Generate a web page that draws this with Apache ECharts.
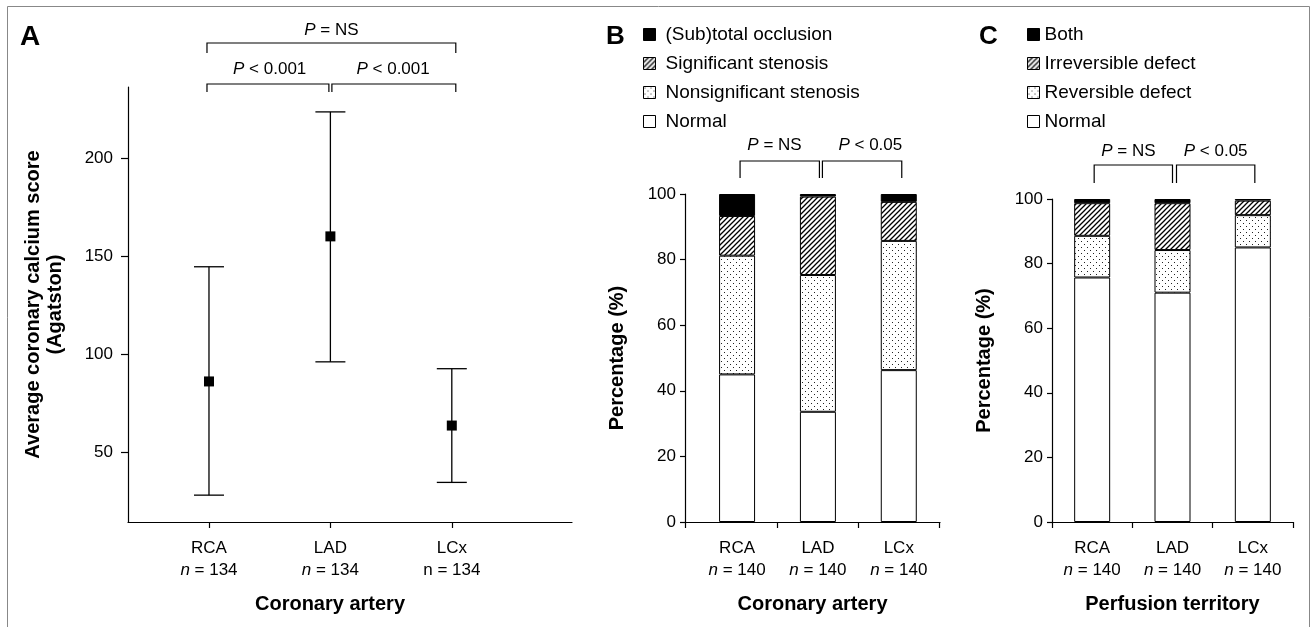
<!DOCTYPE html>
<html>
<head>
<meta charset="utf-8">
<script src="https://cdn.jsdelivr.net/npm/echarts@6/dist/echarts.min.js"></script>
<style>
  html, body { margin: 0; padding: 0; background: #fff; }
  #main { width: 1312px; height: 627px; }
</style>
</head>
<body>
<div id="main"></div>
<script>
// ---- data ----
const arteries = ['RCA', 'LAD', 'LCx'];
const nPanelA = [134, 134, 134];
const nItalicA = [true, true, false];
const nPanelBC = [140, 140, 140];

// A: average coronary calcium score (Agatston), mean with range bars
const calciumMean = [86, 160, 63.5];
const calciumLow = [28, 96, 34.5];
const calciumHigh = [144.5, 223.5, 92.5];
const calciumTicks = [50, 100, 150, 200];

// B: stenosis per coronary artery (%)
const stenNormal = [45.0, 33.6, 46.3];
const stenNonsig = [36.2, 41.7, 39.4];
const stenSig = [12.1, 23.9, 11.9];
const stenOcclusion = [6.7, 0.8, 2.4];

// C: perfusion per territory (%)
const perfNormal = [75.7, 71.0, 85.0];
const perfReversible = [12.9, 13.2, 10.0];
const perfIrreversible = [10.1, 14.5, 4.5];
const perfBoth = [1.3, 1.3, 0.5];

const FONT = "'Liberation Sans', Arial, sans-serif";

// fill patterns
function hatchPattern() {
  const c = document.createElement('canvas');
  c.width = c.height = 5;
  const g = c.getContext('2d');
  g.fillStyle = '#fff';
  g.fillRect(0, 0, 5, 5);
  g.strokeStyle = '#000';
  g.lineWidth = 1.3;
  g.beginPath();
  g.moveTo(0, 5); g.lineTo(5, 0);
  g.moveTo(-1, 1); g.lineTo(1, -1);
  g.moveTo(4, 6); g.lineTo(6, 4);
  g.stroke();
  return { image: c, repeat: 'repeat' };
}
function dotPattern() {
  const c = document.createElement('canvas');
  c.width = c.height = 6;
  const g = c.getContext('2d');
  g.fillStyle = '#fff';
  g.fillRect(0, 0, 6, 6);
  g.fillStyle = '#222';
  g.fillRect(1, 1, 1, 1);
  g.fillRect(4, 4, 1, 1);
  return { image: c, repeat: 'repeat' };
}
const HATCH = hatchPattern();
const DOTS = dotPattern();

const axisLineStyle = { color: '#000', width: 1.2 };
const tickLabel = { color: '#000', fontSize: 17, fontFamily: FONT };
const axisNameStyle = { color: '#000', fontSize: 20, fontWeight: 'bold', fontFamily: FONT };
const italicRich = { i: { fontStyle: 'italic', fontSize: 17, lineHeight: 22, fontFamily: FONT, color: '#000' } };

function nLabel(n, italic) {
  return (italic ? '{i|n}' : 'n') + ' = ' + n;
}

function percentYAxis(idx) {
  return {
    gridIndex: idx, type: 'value', min: 0, max: 100, interval: 20,
    name: 'Percentage (%)', nameLocation: 'middle', nameGap: 58, nameRotate: 90,
    nameTextStyle: axisNameStyle,
    axisLine: { show: true, lineStyle: axisLineStyle },
    axisTick: { show: true, length: 5, lineStyle: axisLineStyle },
    axisLabel: Object.assign({ margin: 9 }, tickLabel),
    splitLine: { show: false }
  };
}

// B uses a value x axis, so the value goes first and x second (stack on y)
function stackSeries(name, values, color, axisIdx, stack, useValueX) {
  const s = {
    name: name, type: 'bar', stack: stack,
    xAxisIndex: axisIdx, yAxisIndex: axisIdx,
    barWidth: 36,
    data: values.map((v, i) => useValueX ? [v, i + 1] : v),
    itemStyle: { color: color, borderColor: '#000', borderWidth: 1 },
    emphasis: { disabled: true }
  };
  if (useValueX) s.encode = { x: 1, y: 0 };
  return s;
}

const legendCommon = {
  orient: 'vertical', itemWidth: 12, itemHeight: 12, itemGap: 10, padding: 0,
  selectedMode: false, icon: 'rect',
  itemStyle: { borderColor: '#000', borderWidth: 1 }
};

const option = {
  animation: false,
  backgroundColor: '#fff',
  textStyle: { fontFamily: FONT },
  title: [
    { text: 'A', left: 15, top: 18, textStyle: { fontSize: 28, fontWeight: 'bold', color: '#000', fontFamily: FONT } },
    { text: 'B', left: 601, top: 19, textStyle: { fontSize: 26, fontWeight: 'bold', color: '#000', fontFamily: FONT } },
    { text: 'C', left: 974, top: 19, textStyle: { fontSize: 26, fontWeight: 'bold', color: '#000', fontFamily: FONT } }
  ],
  legend: [
    Object.assign({ left: 643, top: 25,
      textStyle: { color: '#000', fontSize: 19, fontFamily: FONT, padding: [0, 0, 0, 5] },
      data: ['(Sub)total occlusion', 'Significant stenosis', 'Nonsignificant stenosis', 'Normal'] }, legendCommon),
    Object.assign({ left: 1027, top: 25,
      textStyle: { color: '#000', fontSize: 19, fontFamily: FONT },
      data: ['Both', 'Irreversible defect', 'Reversible defect', 'Normal '] }, legendCommon)
  ],
  grid: [
    { left: 128, top: 87, right: 740, bottom: 105 },
    { left: 685, top: 194, right: 372, bottom: 105 },
    { left: 1052, top: 199, right: 19, bottom: 105 }
  ],
  xAxis: [
    {
      gridIndex: 0, type: 'value', min: 0.333, max: 3.99,
      name: 'Coronary artery', nameLocation: 'middle', nameGap: 72,
      nameTextStyle: Object.assign({ padding: [0, 40, 0, 0] }, axisNameStyle),
      axisLine: { show: true, onZero: false, lineStyle: axisLineStyle },
      axisTick: { show: true, length: 6, customValues: [1, 2, 3], lineStyle: axisLineStyle },
      axisLabel: Object.assign({
        customValues: [1, 2, 3], margin: 15, lineHeight: 22,
        formatter: v => { const i = Math.round(v) - 1; return arteries[i] + '\n' + nLabel(nPanelA[i], nItalicA[i]); },
        rich: italicRich
      }, tickLabel),
      splitLine: { show: false }
    },
    {
      gridIndex: 1, type: 'value', min: 0.356, max: 3.51,
      name: 'Coronary artery', nameLocation: 'middle', nameGap: 72,
      nameTextStyle: axisNameStyle,
      axisLine: { show: true, onZero: false, lineStyle: axisLineStyle },
      axisTick: { show: true, length: 6, customValues: [0.356, 1.5, 2.5, 3.5], lineStyle: axisLineStyle },
      axisLabel: Object.assign({
        customValues: [1, 2, 3], margin: 15, lineHeight: 22,
        formatter: v => { const i = Math.round(v) - 1; return arteries[i] + '\n' + nLabel(nPanelBC[i], true); },
        rich: italicRich
      }, tickLabel),
      splitLine: { show: false }
    },
    {
      gridIndex: 2, type: 'category', data: arteries,
      name: 'Perfusion territory', nameLocation: 'middle', nameGap: 72,
      nameTextStyle: axisNameStyle,
      axisLine: { show: true, lineStyle: axisLineStyle },
      axisTick: { show: true, length: 6, lineStyle: axisLineStyle },
      axisLabel: Object.assign({
        margin: 15, lineHeight: 22, interval: 0,
        formatter: (v, i) => v + '\n' + nLabel(nPanelBC[i], true),
        rich: italicRich
      }, tickLabel)
    }
  ],
  yAxis: [
    {
      gridIndex: 0, type: 'value', min: 14.3, max: 236.2,
      name: 'Average coronary calcium score\n(Agatston)', nameLocation: 'middle', nameGap: 62, nameRotate: 90,
      nameTextStyle: Object.assign({ lineHeight: 22 }, axisNameStyle),
      axisLine: { show: true, lineStyle: axisLineStyle },
      axisTick: { show: true, length: 7, customValues: calciumTicks, lineStyle: axisLineStyle },
      axisLabel: Object.assign({ customValues: calciumTicks, margin: 15 }, tickLabel),
      splitLine: { show: false }
    },
    percentYAxis(1),
    percentYAxis(2)
  ],
  series: [
    {
      name: 'range', type: 'custom', xAxisIndex: 0, yAxisIndex: 0,
      data: arteries.map((_, i) => [i + 1, calciumLow[i], calciumHigh[i]]),
      encode: { x: 0, y: [1, 2] },
      renderItem: (params, api) => {
        const x = api.value(0);
        const lo = api.coord([x, api.value(1)]);
        const hi = api.coord([x, api.value(2)]);
        const half = 15;
        const st = { stroke: '#000', lineWidth: 1.3 };
        return {
          type: 'group',
          children: [
            { type: 'line', shape: { x1: lo[0], y1: lo[1], x2: hi[0], y2: hi[1] }, style: st },
            { type: 'line', shape: { x1: hi[0] - half, y1: hi[1], x2: hi[0] + half, y2: hi[1] }, style: st },
            { type: 'line', shape: { x1: lo[0] - half, y1: lo[1], x2: lo[0] + half, y2: lo[1] }, style: st }
          ]
        };
      },
      z: 2
    },
    {
      name: 'mean', type: 'scatter', xAxisIndex: 0, yAxisIndex: 0,
      symbol: 'rect', symbolSize: 10,
      data: arteries.map((_, i) => [i + 1, calciumMean[i]]),
      itemStyle: { color: '#000', opacity: 1 }, z: 3,
      emphasis: { disabled: true }
    },
    stackSeries('Normal', stenNormal, '#fff', 1, 'b', true),
    stackSeries('Nonsignificant stenosis', stenNonsig, DOTS, 1, 'b', true),
    stackSeries('Significant stenosis', stenSig, HATCH, 1, 'b', true),
    stackSeries('(Sub)total occlusion', stenOcclusion, '#000', 1, 'b', true),
    stackSeries('Normal ', perfNormal, '#fff', 2, 'c', false),
    stackSeries('Reversible defect', perfReversible, DOTS, 2, 'c', false),
    stackSeries('Irreversible defect', perfIrreversible, HATCH, 2, 'c', false),
    stackSeries('Both', perfBoth, '#000', 2, 'c', false)
  ]
};

const chart = echarts.init(document.getElementById('main'));
chart.setOption(option);

// significance brackets, placed from the axes' own positions
function xPix(axisIdx, v) {
  return chart.convertToPixel({ xAxisIndex: axisIdx }, v);
}
const lineStyle = { stroke: '#000', lineWidth: 1.2, fill: null };
function bracket(x1, x2, y, legY) {
  return { type: 'polyline', shape: { points: [[x1, legY], [x1, y], [x2, y], [x2, legY]] }, style: lineStyle, silent: true };
}
function pText(txt, x, y) {
  return {
    type: 'text', silent: true,
    style: {
      text: txt, x: x, y: y, align: 'center', verticalAlign: 'middle',
      fontSize: 17, fontFamily: FONT, fill: '#000',
      rich: { i: { fontStyle: 'italic', fontSize: 17, fontFamily: FONT, fill: '#000' } }
    }
  };
}

const pa = [1, 2, 3].map(v => xPix(0, v));
const pb = [1, 2, 3].map(v => xPix(1, v) + 3);
const pc = [0, 1, 2].map(v => xPix(2, v) + 2);

const graphics = [
  // frame
  { type: 'rect', shape: { x: 7.5, y: 6.5, width: 1302, height: 640 }, style: { stroke: '#888', fill: null, lineWidth: 1 }, silent: true },
  // A
  bracket(pa[0] - 2, pa[2] + 4, 43, 53),
  pText('{i|P} = NS', (pa[0] + pa[2]) / 2 + 1, 30),
  bracket(pa[0] - 2, pa[1] - 1.5, 84, 92),
  bracket(pa[1] + 1.5, pa[2] + 4, 84, 92),
  pText('{i|P} < 0.001', (pa[0] + pa[1]) / 2, 69),
  pText('{i|P} < 0.001', (pa[1] + pa[2]) / 2 + 2, 69),
  // B
  bracket(pb[0], pb[1] - 1.5, 161, 178),
  bracket(pb[1] + 1.5, pb[2], 161, 178),
  pText('{i|P} = NS', (pb[0] + pb[1]) / 2 - 6, 145),
  pText('{i|P} < 0.05', (pb[1] + pb[2]) / 2 + 9, 145),
  // C
  bracket(pc[0], pc[1] - 2, 165, 183),
  bracket(pc[1] + 2, pc[2], 165, 183),
  pText('{i|P} = NS', (pc[0] + pc[1]) / 2 - 6, 151),
  pText('{i|P} < 0.05', (pc[1] + pc[2]) / 2 + 1, 151)
];
chart.setOption({ graphic: graphics });
</script>
</body>
</html>
